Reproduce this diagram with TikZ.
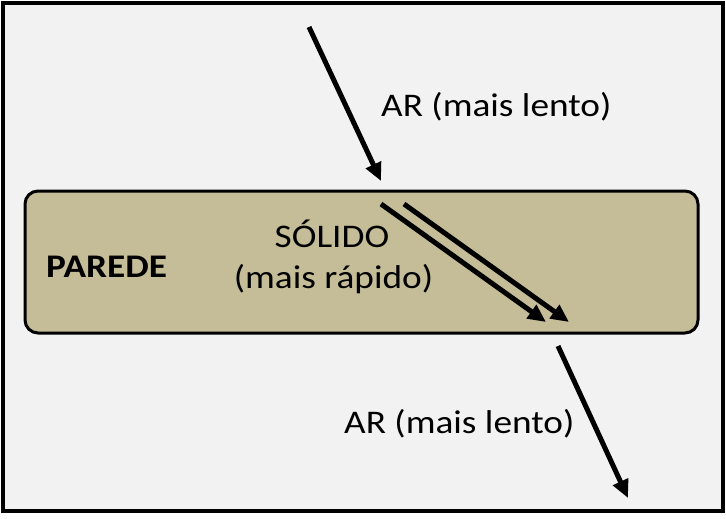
\documentclass[tikz,border=0pt]{standalone}
\usepackage{fontspec}
\setmainfont{Carlito}
\usetikzlibrary{arrows.meta}
\definecolor{bgc}{HTML}{F2F2F2}
\definecolor{wallc}{HTML}{C4BD97}
\newcommand{\widetxt}[1]{\scalebox{1.13}[1]{#1}}
\tikzset{
  ray/.style={line width=5pt, -{Triangle[length=18pt,width=16pt]}},
  lbl/.style={inner sep=0pt, font=\fontsize{33}{40}\selectfont},
}
\begin{document}
\begin{tikzpicture}[x=1pt,y=-1pt]
\useasboundingbox (0,0) rectangle (726,519);
\fill[white] (0,0) rectangle (726,519);
\draw[line width=4pt, fill=bgc] (3,3) rectangle (723,511);
\draw[line width=3pt, fill=wallc, rounded corners=13pt] (25,191) rectangle (698,333);
% labels
\node[lbl, anchor=base west] (ar1) at (381,117) {\widetxt{AR (mais lento)}};
\node[lbl, anchor=base west] (ar2) at (344,433) {\widetxt{AR (mais lento)}};
\node[lbl, anchor=base] (sol) at (332,247) {\widetxt{SÓLIDO}};
\node[lbl, anchor=base] (rap) at (333.5,288) {\widetxt{(mais rápido)}};
\node[lbl, anchor=base west, font=\fontsize{33}{40}\selectfont\bfseries] (par) at (46,277) {\widetxt{PAREDE}};
% ray coordinates
\coordinate (a0) at (309,27);
\coordinate (a1) at (381,181);
\coordinate (b0) at (381,204);
\coordinate (b1) at (546,322);
\coordinate (c0) at (404,204);
\coordinate (c1) at (569,322);
\coordinate (d0) at (558,346);
\coordinate (d1) at (628,498);
\draw[ray] (a0) -- (a1);
\draw[ray] (b0) -- (b1);
\draw[ray] (c0) -- (c1);
\draw[ray] (d0) -- (d1);
\end{tikzpicture}
\end{document}
